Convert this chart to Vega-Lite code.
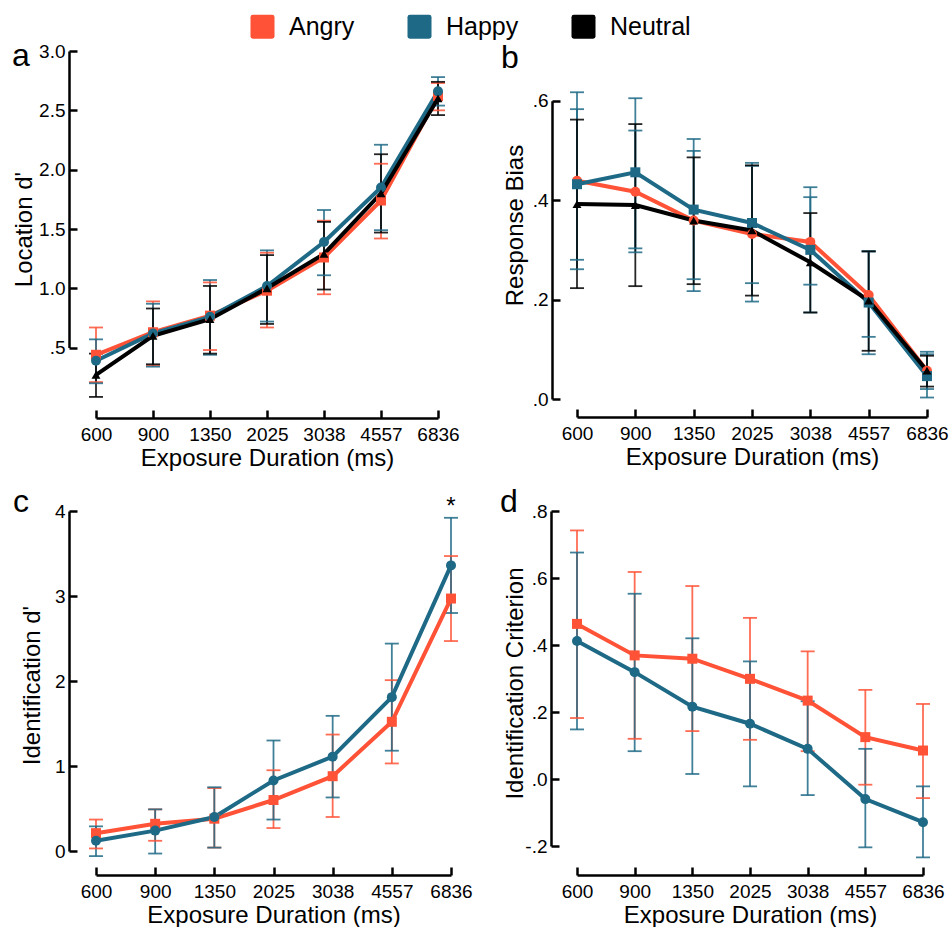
{
  "$schema": "https://vega.github.io/schema/vega-lite/v6.json",
  "background": "white",
  "padding": {"left": 12, "top": 14, "right": 0, "bottom": 0},
  "config": {
    "view": {"stroke": null},
    "axis": {"domainColor": "black", "domainWidth": 2.5, "tickColor": "black", "tickWidth": 2.5, "tickSize": -8, "labelFont": "Liberation Sans", "labelFontSize": 19, "labelColor": "black", "titleFont": "Liberation Sans", "titleFontSize": 24, "titleFontWeight": "normal", "titleColor": "black", "grid": false, "labelFlush": false},
    "title": {"font": "Liberation Sans", "fontSize": 32, "fontWeight": "normal", "anchor": "start", "color": "black", "frame": "group", "offset": 0, "baseline": "alphabetic"},
    "legend": {"orient": "none", "direction": "horizontal", "legendX": 154, "legendY": -37, "labelFont": "Liberation Sans", "labelFontSize": 25, "labelColor": "black", "labelOffset": 14, "columnPadding": 52, "padding": 0}
  },
  "datasets": {
    "a": [
      {"dur": "600", "emotion": "Angry", "m": 0.44, "lo": 0.21, "hi": 0.67},
      {"dur": "900", "emotion": "Angry", "m": 0.63, "lo": 0.35, "hi": 0.89},
      {"dur": "1350", "emotion": "Angry", "m": 0.77, "lo": 0.48, "hi": 1.05},
      {"dur": "2025", "emotion": "Angry", "m": 0.98, "lo": 0.67, "hi": 1.30},
      {"dur": "3038", "emotion": "Angry", "m": 1.26, "lo": 0.95, "hi": 1.57},
      {"dur": "4557", "emotion": "Angry", "m": 1.74, "lo": 1.42, "hi": 2.05},
      {"dur": "6836", "emotion": "Angry", "m": 2.62, "lo": 2.50, "hi": 2.73},
      {"dur": "600", "emotion": "Happy", "m": 0.39, "lo": 0.20, "hi": 0.57},
      {"dur": "900", "emotion": "Happy", "m": 0.62, "lo": 0.34, "hi": 0.87},
      {"dur": "1350", "emotion": "Happy", "m": 0.76, "lo": 0.44, "hi": 1.07},
      {"dur": "2025", "emotion": "Happy", "m": 1.02, "lo": 0.72, "hi": 1.32},
      {"dur": "3038", "emotion": "Happy", "m": 1.39, "lo": 1.11, "hi": 1.66},
      {"dur": "4557", "emotion": "Happy", "m": 1.85, "lo": 1.49, "hi": 2.21},
      {"dur": "6836", "emotion": "Happy", "m": 2.66, "lo": 2.54, "hi": 2.78},
      {"dur": "600", "emotion": "Neutral", "m": 0.27, "lo": 0.085, "hi": 0.45},
      {"dur": "900", "emotion": "Neutral", "m": 0.60, "lo": 0.36, "hi": 0.83},
      {"dur": "1350", "emotion": "Neutral", "m": 0.74, "lo": 0.45, "hi": 1.02},
      {"dur": "2025", "emotion": "Neutral", "m": 1.00, "lo": 0.70, "hi": 1.28},
      {"dur": "3038", "emotion": "Neutral", "m": 1.29, "lo": 0.99, "hi": 1.56},
      {"dur": "4557", "emotion": "Neutral", "m": 1.80, "lo": 1.47, "hi": 2.13},
      {"dur": "6836", "emotion": "Neutral", "m": 2.60, "lo": 2.46, "hi": 2.74}
    ],
    "b": [
      {"dur": "600", "emotion": "Angry", "m": 0.439, "lo": 0.28, "hi": 0.583},
      {"dur": "900", "emotion": "Angry", "m": 0.417, "lo": 0.295, "hi": 0.54},
      {"dur": "1350", "emotion": "Angry", "m": 0.359, "lo": 0.217, "hi": 0.499},
      {"dur": "2025", "emotion": "Angry", "m": 0.332, "lo": 0.196, "hi": 0.469},
      {"dur": "3038", "emotion": "Angry", "m": 0.316, "lo": 0.23, "hi": 0.406},
      {"dur": "4557", "emotion": "Angry", "m": 0.209, "lo": 0.125, "hi": 0.297},
      {"dur": "6836", "emotion": "Angry", "m": 0.057, "lo": 0.02, "hi": 0.095},
      {"dur": "600", "emotion": "Happy", "m": 0.432, "lo": 0.261, "hi": 0.617},
      {"dur": "900", "emotion": "Happy", "m": 0.456, "lo": 0.303, "hi": 0.605},
      {"dur": "1350", "emotion": "Happy", "m": 0.381, "lo": 0.241, "hi": 0.523},
      {"dur": "2025", "emotion": "Happy", "m": 0.354, "lo": 0.233, "hi": 0.475},
      {"dur": "3038", "emotion": "Happy", "m": 0.30, "lo": 0.174, "hi": 0.426},
      {"dur": "4557", "emotion": "Happy", "m": 0.194, "lo": 0.09, "hi": 0.297},
      {"dur": "6836", "emotion": "Happy", "m": 0.046, "lo": 0.003, "hi": 0.09},
      {"dur": "600", "emotion": "Neutral", "m": 0.392, "lo": 0.223, "hi": 0.562},
      {"dur": "900", "emotion": "Neutral", "m": 0.39, "lo": 0.227, "hi": 0.553},
      {"dur": "1350", "emotion": "Neutral", "m": 0.359, "lo": 0.231, "hi": 0.486},
      {"dur": "2025", "emotion": "Neutral", "m": 0.339, "lo": 0.208, "hi": 0.47},
      {"dur": "3038", "emotion": "Neutral", "m": 0.275, "lo": 0.174, "hi": 0.374},
      {"dur": "4557", "emotion": "Neutral", "m": 0.198, "lo": 0.097, "hi": 0.297},
      {"dur": "6836", "emotion": "Neutral", "m": 0.057, "lo": 0.025, "hi": 0.087}
    ],
    "c": [
      {"dur": "600", "emotion": "Angry", "m": 0.21, "lo": 0.03, "hi": 0.37},
      {"dur": "900", "emotion": "Angry", "m": 0.32, "lo": 0.12, "hi": 0.49},
      {"dur": "1350", "emotion": "Angry", "m": 0.38, "lo": 0.04, "hi": 0.74},
      {"dur": "2025", "emotion": "Angry", "m": 0.60, "lo": 0.27, "hi": 0.95},
      {"dur": "3038", "emotion": "Angry", "m": 0.88, "lo": 0.40, "hi": 1.37},
      {"dur": "4557", "emotion": "Angry", "m": 1.52, "lo": 1.03, "hi": 2.01},
      {"dur": "6836", "emotion": "Angry", "m": 2.97, "lo": 2.47, "hi": 3.47},
      {"dur": "600", "emotion": "Happy", "m": 0.12, "lo": -0.06, "hi": 0.29},
      {"dur": "900", "emotion": "Happy", "m": 0.24, "lo": -0.03, "hi": 0.49},
      {"dur": "1350", "emotion": "Happy", "m": 0.40, "lo": 0.04, "hi": 0.75},
      {"dur": "2025", "emotion": "Happy", "m": 0.83, "lo": 0.37, "hi": 1.30},
      {"dur": "3038", "emotion": "Happy", "m": 1.11, "lo": 0.63, "hi": 1.59},
      {"dur": "4557", "emotion": "Happy", "m": 1.81, "lo": 1.18, "hi": 2.44},
      {"dur": "6836", "emotion": "Happy", "m": 3.36, "lo": 2.80, "hi": 3.92}
    ],
    "cstar": [
      {"dur": "6836", "y": 3.97, "label": "*"}
    ],
    "d": [
      {"dur": "600", "emotion": "Angry", "m": 0.463, "lo": 0.182, "hi": 0.742},
      {"dur": "900", "emotion": "Angry", "m": 0.369, "lo": 0.12, "hi": 0.618},
      {"dur": "1350", "emotion": "Angry", "m": 0.359, "lo": 0.143, "hi": 0.576},
      {"dur": "2025", "emotion": "Angry", "m": 0.299, "lo": 0.117, "hi": 0.481},
      {"dur": "3038", "emotion": "Angry", "m": 0.234, "lo": 0.083, "hi": 0.381},
      {"dur": "4557", "emotion": "Angry", "m": 0.125, "lo": -0.017, "hi": 0.266},
      {"dur": "6836", "emotion": "Angry", "m": 0.085, "lo": -0.057, "hi": 0.224},
      {"dur": "600", "emotion": "Happy", "m": 0.412, "lo": 0.148, "hi": 0.676},
      {"dur": "900", "emotion": "Happy", "m": 0.319, "lo": 0.083, "hi": 0.553},
      {"dur": "1350", "emotion": "Happy", "m": 0.216, "lo": 0.015, "hi": 0.42},
      {"dur": "2025", "emotion": "Happy", "m": 0.165, "lo": -0.022, "hi": 0.351},
      {"dur": "3038", "emotion": "Happy", "m": 0.09, "lo": -0.048, "hi": 0.232},
      {"dur": "4557", "emotion": "Happy", "m": -0.06, "lo": -0.204, "hi": 0.09},
      {"dur": "6836", "emotion": "Happy", "m": -0.129, "lo": -0.234, "hi": -0.022}
    ]
  },
  "columns": 2,
  "bounds": "flush",
  "align": "each",
  "spacing": {"row": 104, "column": 126},
  "concat": [
    {
      "width": 342, "height": 356,
      "title": {"text": "a", "dx": -84, "dy": 35},
      "data": {"name": "a"},
      "encoding": {
        "x": {"field": "dur", "type": "ordinal", "scale": {"type": "point", "domain": ["600", "900", "1350", "2025", "3038", "4557", "6836"], "padding": 0}, "axis": {"title": "Exposure Duration (ms)", "labelAngle": 0, "offset": 11, "labelPadding": 15, "titlePadding": 2}},
        "y": {"field": "m", "type": "quantitative", "title": "Location d'", "scale": {"domain": [0, 3], "zero": false, "nice": false}, "axis": {"values": [0.5, 1, 1.5, 2, 2.5, 3], "labelExpr": "datum.value < 1 ? '.5' : format(datum.value, '.1f')", "offset": 27, "labelPadding": 12, "titlePadding": 2, "domainDash": [0, 59.4, 297, 2000]}},
        "color": {"field": "emotion", "type": "nominal", "scale": {"domain": ["Angry", "Happy", "Neutral"], "range": ["#FF5236", "#1E6A86", "#000000"]}, "legend": {"title": null, "symbolType": "M-0.8,-1H0.8Q1,-1 1,-0.8V0.8Q1,1 0.8,1H-0.8Q-1,1 -1,0.8V-0.8Q-1,-1 -0.8,-1Z", "symbolSize": 576, "symbolStrokeWidth": 0, "symbolOpacity": 1, "encode": {"symbols": {"update": {"fill": {"scale": "color", "field": "value"}, "opacity": {"value": 1}}}}}}
      },
      "layer": [
        {"mark": {"type": "rule", "strokeWidth": 1.8, "opacity": 0.85}, "encoding": {"y": {"field": "lo", "type": "quantitative", "title": "Location d'", "scale": {"domain": [0, 3], "zero": false, "nice": false}}, "y2": {"field": "hi"}}},
        {"mark": {"type": "tick", "orient": "horizontal", "size": 14, "thickness": 1.8, "opacity": 0.85}, "encoding": {"y": {"field": "lo", "type": "quantitative", "title": "Location d'", "scale": {"domain": [0, 3], "zero": false, "nice": false}}}},
        {"mark": {"type": "tick", "orient": "horizontal", "size": 14, "thickness": 1.8, "opacity": 0.85}, "encoding": {"y": {"field": "hi", "type": "quantitative", "title": "Location d'", "scale": {"domain": [0, 3], "zero": false, "nice": false}}}},
        {"mark": {"type": "line", "strokeWidth": 4}},
        {"transform": [{"filter": "datum.emotion === 'Angry'"}], "mark": {"type": "point", "shape": "square", "filled": true, "size": 100, "opacity": 1}},
        {"transform": [{"filter": "datum.emotion === 'Happy'"}], "mark": {"type": "point", "shape": "circle", "filled": true, "size": 100, "opacity": 1}},
        {"transform": [{"filter": "datum.emotion === 'Neutral'"}], "mark": {"type": "point", "shape": "triangle-up", "filled": true, "size": 80, "opacity": 1}}
      ]
    },
    {
      "width": 350, "height": 348,
      "title": {"text": "b", "dx": -76, "dy": 28},
      "data": {"name": "b"},
      "encoding": {
        "x": {"field": "dur", "type": "ordinal", "scale": {"type": "point", "domain": ["600", "900", "1350", "2025", "3038", "4557", "6836"], "padding": 0}, "axis": {"title": "Exposure Duration (ms)", "labelAngle": 0, "offset": 18, "labelPadding": 15, "titlePadding": 2}},
        "y": {"field": "m", "type": "quantitative", "title": "Response Bias", "scale": {"domain": [0, 0.7], "zero": false, "nice": false}, "axis": {"values": [0, 0.2, 0.4, 0.6], "labelExpr": "'.' + format(datum.value * 10, '.0f')", "offset": 25, "labelPadding": 12, "titlePadding": 5, "domainDash": [298.3, 2000]}},
        "color": {"field": "emotion", "type": "nominal", "scale": {"domain": ["Angry", "Happy", "Neutral"], "range": ["#FF5236", "#1E6A86", "#000000"]}, "legend": {"title": null, "symbolType": "M-0.8,-1H0.8Q1,-1 1,-0.8V0.8Q1,1 0.8,1H-0.8Q-1,1 -1,0.8V-0.8Q-1,-1 -0.8,-1Z", "symbolSize": 576, "symbolStrokeWidth": 0, "symbolOpacity": 1, "encode": {"symbols": {"update": {"fill": {"scale": "color", "field": "value"}, "opacity": {"value": 1}}}}}}
      },
      "layer": [
        {"mark": {"type": "rule", "strokeWidth": 1.8, "opacity": 0.85}, "encoding": {"y": {"field": "lo", "type": "quantitative", "title": "Response Bias", "scale": {"domain": [0, 0.7], "zero": false, "nice": false}}, "y2": {"field": "hi"}, "color": {"condition": {"test": "datum.emotion === 'Neutral'", "value": "#000000"}, "value": "#1E6A86"}}},
        {"mark": {"type": "tick", "orient": "horizontal", "size": 14, "thickness": 1.8, "opacity": 0.85}, "encoding": {"y": {"field": "lo", "type": "quantitative", "title": "Response Bias", "scale": {"domain": [0, 0.7], "zero": false, "nice": false}}, "color": {"condition": {"test": "datum.emotion === 'Neutral'", "value": "#000000"}, "value": "#1E6A86"}}},
        {"mark": {"type": "tick", "orient": "horizontal", "size": 14, "thickness": 1.8, "opacity": 0.85}, "encoding": {"y": {"field": "hi", "type": "quantitative", "title": "Response Bias", "scale": {"domain": [0, 0.7], "zero": false, "nice": false}}, "color": {"condition": {"test": "datum.emotion === 'Neutral'", "value": "#000000"}, "value": "#1E6A86"}}},
        {"mark": {"type": "line", "strokeWidth": 4}},
        {"transform": [{"filter": "datum.emotion === 'Angry'"}], "mark": {"type": "point", "shape": "circle", "filled": true, "size": 100, "opacity": 1}},
        {"transform": [{"filter": "datum.emotion === 'Happy'"}], "mark": {"type": "point", "shape": "square", "filled": true, "size": 100, "opacity": 1}},
        {"transform": [{"filter": "datum.emotion === 'Neutral'"}], "mark": {"type": "point", "shape": "triangle-up", "filled": true, "size": 80, "opacity": 1}}
      ]
    },
    {
      "width": 355, "height": 340,
      "title": {"text": "c", "dx": -83, "dy": 28},
      "layer": [
        {
          "data": {"name": "c"},
          "encoding": {
            "x": {"field": "dur", "type": "ordinal", "scale": {"type": "point", "domain": ["600", "900", "1350", "2025", "3038", "4557", "6836"], "padding": 0}, "axis": {"title": "Exposure Duration (ms)", "labelAngle": 0, "offset": 24, "labelPadding": 15, "titlePadding": 2}},
            "y": {"field": "m", "type": "quantitative", "title": "Identification d'", "scale": {"domain": [0, 4], "zero": false, "nice": false}, "axis": {"values": [0, 1, 2, 3, 4], "format": "d", "offset": 27, "labelPadding": 12, "titlePadding": 10, "titleY": 174}},
            "color": {"field": "emotion", "type": "nominal", "scale": {"domain": ["Angry", "Happy", "Neutral"], "range": ["#FF5236", "#1E6A86", "#000000"]}, "legend": {"title": null, "symbolType": "M-0.8,-1H0.8Q1,-1 1,-0.8V0.8Q1,1 0.8,1H-0.8Q-1,1 -1,0.8V-0.8Q-1,-1 -0.8,-1Z", "symbolSize": 576, "symbolStrokeWidth": 0, "symbolOpacity": 1, "encode": {"symbols": {"update": {"fill": {"scale": "color", "field": "value"}, "opacity": {"value": 1}}}}}}
          },
          "layer": [
            {"mark": {"type": "rule", "strokeWidth": 1.8, "opacity": 0.85}, "encoding": {"y": {"field": "lo", "type": "quantitative", "title": "Identification d'", "scale": {"domain": [0, 4], "zero": false, "nice": false}}, "y2": {"field": "hi"}}},
            {"mark": {"type": "tick", "orient": "horizontal", "size": 14, "thickness": 1.8, "opacity": 0.85}, "encoding": {"y": {"field": "lo", "type": "quantitative", "title": "Identification d'", "scale": {"domain": [0, 4], "zero": false, "nice": false}}}},
            {"mark": {"type": "tick", "orient": "horizontal", "size": 14, "thickness": 1.8, "opacity": 0.85}, "encoding": {"y": {"field": "hi", "type": "quantitative", "title": "Identification d'", "scale": {"domain": [0, 4], "zero": false, "nice": false}}}},
            {"mark": {"type": "line", "strokeWidth": 4}},
            {"transform": [{"filter": "datum.emotion === 'Angry'"}], "mark": {"type": "point", "shape": "square", "filled": true, "size": 100, "opacity": 1}},
            {"transform": [{"filter": "datum.emotion === 'Happy'"}], "mark": {"type": "point", "shape": "circle", "filled": true, "size": 100, "opacity": 1}}
          ]
        },
        {
          "data": {"name": "cstar"},
          "mark": {"type": "text", "font": "Liberation Sans", "fontSize": 24, "baseline": "alphabetic", "color": "black"},
          "encoding": {
            "x": {"field": "dur", "type": "ordinal"},
            "y": {"field": "y", "type": "quantitative", "title": "Identification d'"},
            "text": {"field": "label"}
          }
        }
      ]
    },
    {
      "width": 346, "height": 335,
      "title": {"text": "d", "dx": -77, "dy": 21},
      "data": {"name": "d"},
      "encoding": {
        "x": {"field": "dur", "type": "ordinal", "scale": {"type": "point", "domain": ["600", "900", "1350", "2025", "3038", "4557", "6836"], "padding": 0}, "axis": {"title": "Exposure Duration (ms)", "labelAngle": 0, "offset": 29, "labelPadding": 15, "titlePadding": 2}},
        "y": {"field": "m", "type": "quantitative", "title": "Identification Criterion", "scale": {"domain": [-0.2, 0.8], "zero": false, "nice": false}, "axis": {"values": [-0.2, 0, 0.2, 0.4, 0.6, 0.8], "labelExpr": "datum.value < 0 ? '-.' + format(-datum.value * 10, '.0f') : '.' + format(datum.value * 10, '.0f')", "offset": 26, "labelPadding": 12, "titlePadding": -3, "titleY": 172}},
        "color": {"field": "emotion", "type": "nominal", "scale": {"domain": ["Angry", "Happy", "Neutral"], "range": ["#FF5236", "#1E6A86", "#000000"]}, "legend": {"title": null, "symbolType": "M-0.8,-1H0.8Q1,-1 1,-0.8V0.8Q1,1 0.8,1H-0.8Q-1,1 -1,0.8V-0.8Q-1,-1 -0.8,-1Z", "symbolSize": 576, "symbolStrokeWidth": 0, "symbolOpacity": 1, "encode": {"symbols": {"update": {"fill": {"scale": "color", "field": "value"}, "opacity": {"value": 1}}}}}}
      },
      "layer": [
        {"mark": {"type": "rule", "strokeWidth": 1.8, "opacity": 0.85}, "encoding": {"y": {"field": "lo", "type": "quantitative", "title": "Identification Criterion", "scale": {"domain": [-0.2, 0.8], "zero": false, "nice": false}}, "y2": {"field": "hi"}}},
        {"mark": {"type": "tick", "orient": "horizontal", "size": 14, "thickness": 1.8, "opacity": 0.85}, "encoding": {"y": {"field": "lo", "type": "quantitative", "title": "Identification Criterion", "scale": {"domain": [-0.2, 0.8], "zero": false, "nice": false}}}},
        {"mark": {"type": "tick", "orient": "horizontal", "size": 14, "thickness": 1.8, "opacity": 0.85}, "encoding": {"y": {"field": "hi", "type": "quantitative", "title": "Identification Criterion", "scale": {"domain": [-0.2, 0.8], "zero": false, "nice": false}}}},
        {"mark": {"type": "line", "strokeWidth": 4}},
        {"transform": [{"filter": "datum.emotion === 'Angry'"}], "mark": {"type": "point", "shape": "square", "filled": true, "size": 100, "opacity": 1}},
        {"transform": [{"filter": "datum.emotion === 'Happy'"}], "mark": {"type": "point", "shape": "circle", "filled": true, "size": 100, "opacity": 1}}
      ]
    }
  ]
}
